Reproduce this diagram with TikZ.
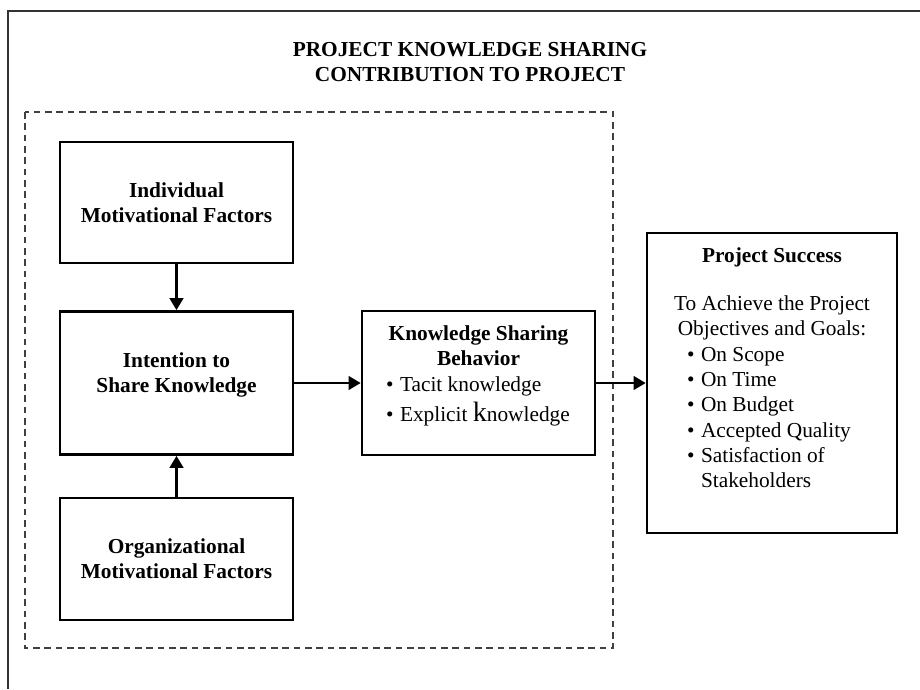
\documentclass[tikz,border=0pt]{standalone}
\usepackage{fontspec}
\setmainfont{Liberation Serif}
\usetikzlibrary{arrows.meta}

\newcommand{\bul}{\makebox[10.5pt][l]{\textbullet}}

\begin{document}
\begin{tikzpicture}[x=0.75pt,y=-0.75pt,
    box/.style={draw,line width=1.9pt,inner sep=0pt,align=center,font=\fontsize{16}{19}\selectfont\bfseries},
    arr/.style={-{Triangle[width=10pt,length=9pt]},line width=2.1pt},
    frame/.style={draw=black!80,line width=2pt},
    dashframe/.style={draw=black!75,line width=1.8pt,dash pattern=on 5pt off 3.5pt}]
    \useasboundingbox (0,0) rectangle (920,689);
    \draw[frame] (920,11) -| (8,689);
    \draw[dashframe] (25,112) rectangle (613,648);
    \node[align=center,font=\fontsize{16}{19}\selectfont\bfseries](title) at (470,62){PROJECT KNOWLEDGE SHARING\\CONTRIBUTION TO PROJECT};
    \node[box,minimum width=174.75pt,minimum height=90.75pt](indiv) at (176.5,202.5){Individual\\Motivational Factors};
    \node[box,minimum width=174.75pt,minimum height=107.25pt](intent) at (176.5,383){Intention to\\Share Knowledge\\[-3pt]};
    \node[box,minimum width=174.75pt,minimum height=91.5pt](org) at (176.5,559){Organizational\\Motivational Factors};
    \node[box,minimum width=174.75pt,minimum height=108pt](ksb) at (478.5,383){%
        \parbox[c][108pt][t]{174.75pt}{\vspace*{11pt}\centering Knowledge Sharing\\Behavior\par
            \raggedright\mdseries
            \hspace*{18pt}\bul Tacit knowledge\\[4pt]
            \hspace*{18pt}\bul Explicit {\fontsize{21}{19}\selectfont k}nowledge}};
    \node[box,minimum width=187.5pt,minimum height=225pt](ps) at (772,383){%
        \parbox[c][225pt][t]{187.5pt}{\vspace*{11pt}\centering Project Success\\[17pt]
            \mdseries To Achieve the Project\\Objectives and Goals:\par
            \raggedright
            \hspace*{30pt}\bul On Scope\\
            \hspace*{30pt}\bul On Time\\
            \hspace*{30pt}\bul On Budget\\
            \hspace*{30pt}\bul Accepted Quality\\
            \hspace*{30pt}\bul Satisfaction of\\
            \hspace*{40.5pt}Stakeholders}};
    \draw[arr] (indiv) -- (intent);
    \draw[arr] (org) -- (intent);
    \draw[arr] (intent) -- (ksb);
    \draw[arr] (ksb) -- (ps);
\end{tikzpicture}
\end{document}
